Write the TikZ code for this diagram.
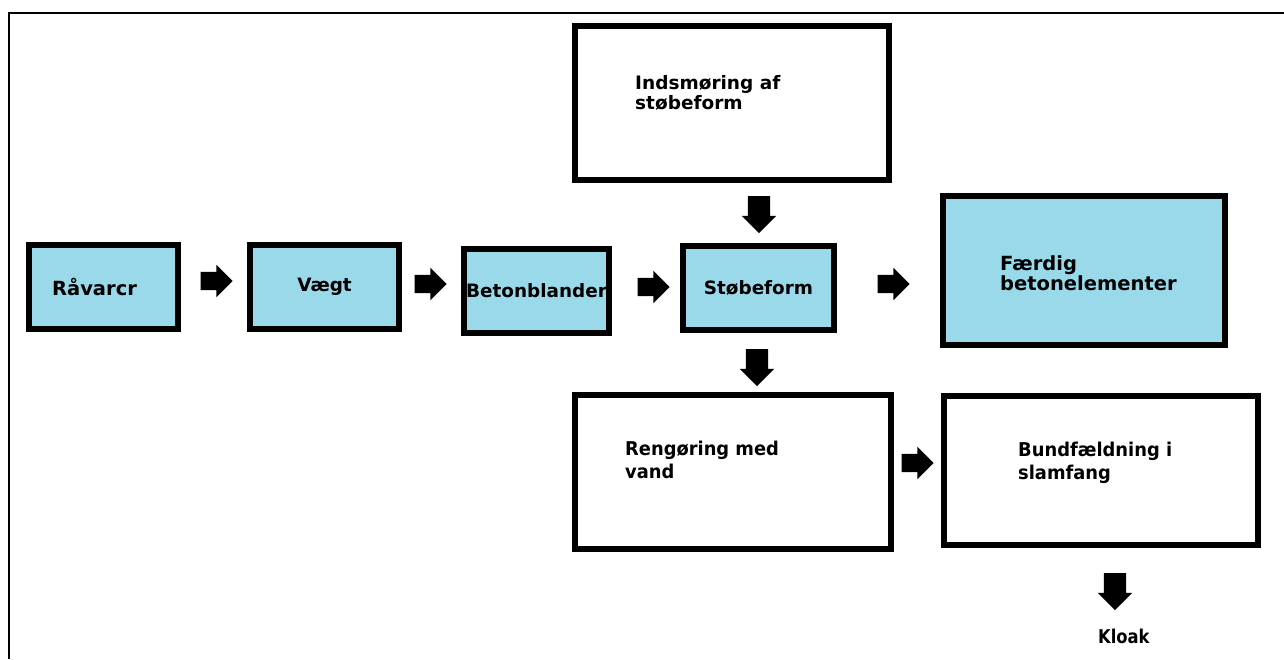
\documentclass[tikz,border=0pt]{standalone}
\usepackage{fontspec}
\setmainfont{DejaVu Sans}
\newfontfamily\narrowfont[FakeStretch=0.94]{DejaVu Sans}
\newfontfamily\kloakfont[FakeStretch=0.86]{DejaVu Sans}
\usetikzlibrary{shapes.arrows}
\definecolor{boxblue}{RGB}{153,217,234}
\begin{document}
\begin{tikzpicture}[x=1pt,y=-1pt,
  box/.style={draw=black, line width=6pt, inner sep=0pt},
  bluebox/.style={box, fill=boxblue, font=\bfseries\fontsize{18.4}{22}\selectfont},
  whitebox/.style={box, fill=white},
  toptext/.style={anchor=north west, inner sep=0pt, align=left, font=\bfseries\fontsize{18.5}{20}\selectfont},
  bigtext/.style={anchor=north west, inner sep=0pt, align=left, font=\bfseries\fontsize{19.5}{20}\selectfont},
  lowtext/.style={anchor=north west, inner sep=0pt, align=left, font=\narrowfont\bfseries\fontsize{19}{23}\selectfont},
  barrow/.style={single arrow, fill=black, draw=none, inner sep=0pt, minimum height=32pt, single arrow head extend=7pt, single arrow tip angle=90},
  rarrow/.style={barrow},
  darrow/.style={barrow, rotate=-90, minimum height=37pt, single arrow head extend=6pt}]
\useasboundingbox (0,0) rectangle (1284,659);
\draw[line width=2pt] (9,659) -- (9,12.5) -- (1284,12.5);
% boxes
\node[bluebox, minimum width=149pt, minimum height=84pt, font=\bfseries\fontsize{19.5}{22}\selectfont] (raw) at (103.5,287) {\hspace*{-18pt}Råvarcr};
\node[bluebox, minimum width=149pt, minimum height=84pt] (vaegt) at (324.5,287) {Vægt};
\node[bluebox, minimum width=145pt, minimum height=84pt] (beton) at (536.5,291) {Betonblander};
\node[bluebox, minimum width=151pt, minimum height=84pt] (stoebe) at (758.5,288) {Støbeform};
\node[bluebox, minimum width=282pt, minimum height=149pt] (faerdig) at (1084,270.5) {};
\node[whitebox, minimum width=314pt, minimum height=154pt] (inds) at (732,103) {};
\node[whitebox, minimum width=316pt, minimum height=154pt] (reng) at (733,472) {};
\node[whitebox, minimum width=314pt, minimum height=149pt] (bund) at (1101,470.5) {};
% texts
\node[bigtext] (tfaerdig) at (1000,255) {Færdig\\betonelementer};
\node[toptext] (tinds) at (635,75) {Indsmøring af\\støbeform};
\node[lowtext] (treng) at (625,441) {Rengøring med\\vand};
\node[lowtext] (tbund) at (1018,442) {Bundfældning i\\slamfang};
\node[anchor=north west, inner sep=0pt, font=\kloakfont\bfseries\fontsize{19}{23}\selectfont] (kloak) at (1098,629) {Kloak};
% block arrows
\node[rarrow] (a1) at (212,281) {\rule{0pt}{18pt}};
\node[rarrow] (a2) at (426,284) {\rule{0pt}{18pt}};
\node[rarrow] (a3) at (649,287) {\rule{0pt}{18pt}};
\node[rarrow] (a4) at (889,284) {\rule{0pt}{18pt}};
\node[rarrow] (a5) at (913,463) {\rule{0pt}{18pt}};
\node[darrow] (d1) at (759,209) {\rule{0pt}{22pt}};
\node[darrow] (d2) at (757,362) {\rule{0pt}{22pt}};
\node[darrow] (d3) at (1115,586) {\rule{0pt}{22pt}};
\end{tikzpicture}
\end{document}
